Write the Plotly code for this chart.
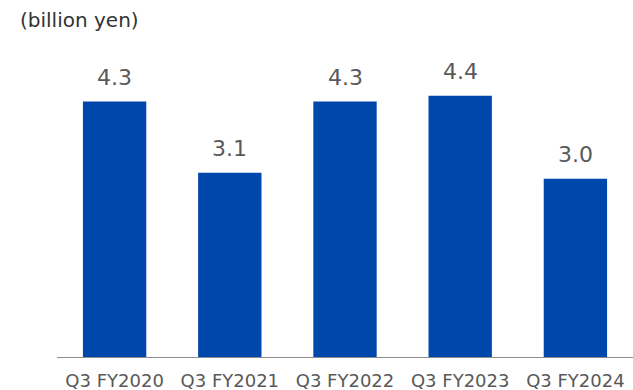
import plotly.graph_objects as go

categories = ["Q3 FY2020", "Q3 FY2021", "Q3 FY2022", "Q3 FY2023", "Q3 FY2024"]
values = [4.3, 3.1, 4.3, 4.4, 3.0]
value_labels = ["4.3", "3.1", "4.3", "4.4", "3.0"]

FONT = "DejaVu Sans, Open Sans, sans-serif"
BAR_COLOR = "#0047AB"
TEXT_GRAY = "#595959"

fig = go.Figure()
fig.add_trace(go.Bar(x=categories, y=values, marker_color=BAR_COLOR,
                     marker_line_width=0, hoverinfo="skip"))

for c, v, t in zip(categories, values, value_labels):
    fig.add_annotation(x=c, y=v, text=t, showarrow=False, yanchor="bottom",
                       yshift=10, font=dict(family=FONT, size=22, color=TEXT_GRAY))

fig.add_annotation(xref="paper", yref="paper", x=-0.068, y=1.135, xanchor="left",
                   yanchor="middle", showarrow=False, text="(billion yen)",
                   font=dict(family=FONT, size=20, color="#333333"))

fig.update_layout(
    width=633, height=390,
    margin=dict(l=57, r=0, t=60, b=33),
    plot_bgcolor="white", paper_bgcolor="white",
    bargap=0.45, showlegend=False,
    xaxis=dict(showline=True, linecolor="#8c8c8c", linewidth=1, ticks="",
               tickfont=dict(family=FONT, size=18, color=TEXT_GRAY),
               ticklabelstandoff=7, showgrid=False, fixedrange=True),
    yaxis=dict(range=[0, 5], visible=False, showgrid=False, zeroline=False,
               fixedrange=True),
)

fig.write_html("out.html")
